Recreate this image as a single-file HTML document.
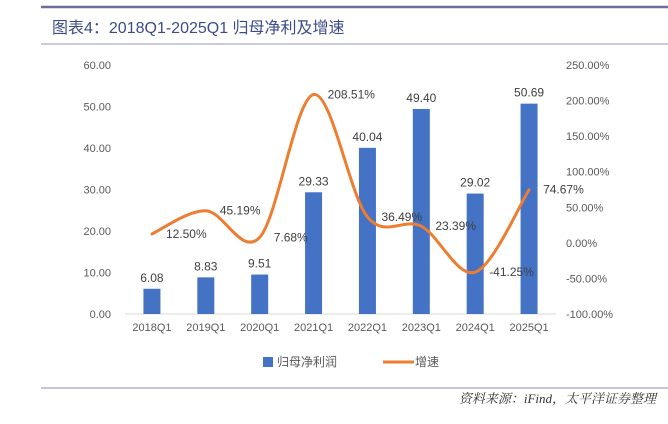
<!DOCTYPE html>
<html><head><meta charset="utf-8">
<style>
body{margin:0;background:#fff;width:668px;height:419px;overflow:hidden;font-family:"Liberation Sans","Noto Sans CJK SC",sans-serif;}
</style></head>
<body>
<svg width="668" height="419" xmlns="http://www.w3.org/2000/svg">
<line x1="41" y1="7" x2="668" y2="7" stroke="#6b6f99" stroke-width="2.5"/>
<text x="52" y="33" font-size="16" fill="#3d4b8a" font-family="Liberation Sans, Noto Sans CJK SC, sans-serif">图表4：2018Q1-2025Q1 归母净利及增速</text>
<line x1="41" y1="44" x2="668" y2="44" stroke="#b9b9d6" stroke-width="1.5"/>
<g id="plot"></g>
<line x1="41" y1="388" x2="668" y2="388" stroke="#8a8ab5" stroke-width="1"/>
<text x="656" y="403" font-size="13" font-style="italic" fill="#333" text-anchor="end" font-family="Liberation Serif, Noto Serif CJK SC, serif">资料来源：iFind，太平洋证券整理</text>
</svg>
<script>
const categories=["2018Q1","2019Q1","2020Q1","2021Q1","2022Q1","2023Q1","2024Q1","2025Q1"];
const profit=[6.08,8.83,9.51,29.33,40.04,49.40,29.02,50.69];
const growth=[12.50,45.19,7.68,208.51,36.49,23.39,-41.25,74.67];
const leftTicks=[0,10,20,30,40,50,60];
const rightTicks=[-100,-50,0,50,100,150,200,250];
const growthLabels=["12.50%","45.19%","7.68%","208.51%","36.49%","23.39%","-41.25%","74.67%"];
const NS="http://www.w3.org/2000/svg";
const g=document.getElementById('plot');
const x0=125,x1=556,yTop=65,yBot=314;
const bw=(x1-x0)/categories.length;
const xs=i=>x0+bw*(i+0.5);
const yL=v=>yBot-(v-0)/(60-0)*(yBot-yTop);
const yR=v=>yBot-(v+100)/350*(yBot-yTop);
function el(t,a,txt){const e=document.createElementNS(NS,t);for(const k in a)e.setAttribute(k,a[k]);if(txt!=null)e.textContent=txt;g.appendChild(e);return e;}
const axl=el('line',{x1:x0,y1:yBot,x2:x1,y2:yBot,stroke:'#d9d9d9','stroke-width':1});


leftTicks.forEach(v=>{const t=el('text',{x:111,y:yL(v)+4,'font-size':11,fill:'#595959','text-anchor':'end'},v.toFixed(2));

});
rightTicks.forEach(v=>{const t=el('text',{x:566,y:yR(v)+4,'font-size':11,fill:'#595959'},v.toFixed(2)+'%');

});
categories.forEach((c,i)=>{const t=el('text',{x:xs(i),y:331,'font-size':11,fill:'#595959','text-anchor':'middle'},c);

});
profit.forEach((v,i)=>{const r=el('rect',{x:xs(i)-8.5,y:yL(v),width:17,height:yBot-yL(v),fill:'#4472c4'});


const t=el('text',{x:xs(i),y:yL(v)-7,'font-size':12,fill:'#404040','text-anchor':'middle'},v.toFixed(2));

});
// smooth line (Catmull-Rom)
const pts=growth.map((v,i)=>[xs(i),yR(v)]);
let d='M'+pts[0][0]+','+pts[0][1];
for(let i=0;i<pts.length-1;i++){const p0=pts[i-1]||pts[i],p1=pts[i],p2=pts[i+1],p3=pts[i+2]||p2;const k=1/6;
d+=' C'+(p1[0]+(p2[0]-p0[0])*k)+','+(p1[1]+(p2[1]-p0[1])*k)+' '+(p2[0]-(p3[0]-p1[0])*k)+','+(p2[1]-(p3[1]-p1[1])*k)+' '+p2[0]+','+p2[1];}
const ln=el('path',{d:d,fill:'none',stroke:'#ed7d31','stroke-width':3,'stroke-linecap':'round'});


growth.forEach((v,i)=>{const t=el('text',{x:xs(i)+14,y:yR(v)+4,'font-size':12,fill:'#404040'},growthLabels[i]);

});
// legend
const lr=el('rect',{x:263,y:357,width:10,height:10,fill:'#4472c4'});


const lt=el('text',{x:277,y:366,'font-size':12,fill:'#595959'},'归母净利润');


const ll=el('line',{x1:383,y1:362,x2:414,y2:362,stroke:'#ed7d31','stroke-width':3});


const lt2=el('text',{x:415,y:366,'font-size':12,fill:'#595959'},'增速');


</script>
</body></html>
